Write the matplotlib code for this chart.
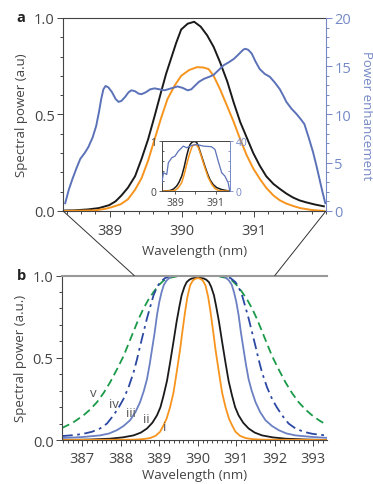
import matplotlib
matplotlib.use('Agg')
import matplotlib.pyplot as plt
from matplotlib.patches import ConnectionPatch
from matplotlib.ticker import MultipleLocator

plt.rcParams['font.family'] = ['Open Sans', 'DejaVu Sans']
plt.rcParams['font.size'] = 9.5

a_black_x = [388.35, 388.5, 388.7, 388.85, 388.99, 389.08, 389.16, 389.25, 389.35, 389.44, 389.53,
             389.62, 389.71, 389.78, 389.85, 389.92, 389.99, 390.08, 390.17, 390.26, 390.35, 390.44,
             390.53, 390.63, 390.72, 390.81, 390.9, 390.99, 391.08, 391.17, 391.27, 391.36, 391.45,
             391.54, 391.63, 391.72, 391.85, 391.97]
a_black_y = [0.002, 0.003, 0.008, 0.015, 0.03, 0.05, 0.08, 0.12, 0.18, 0.27, 0.37,
             0.49, 0.615, 0.71, 0.79, 0.87, 0.94, 0.97, 0.98, 0.955, 0.91, 0.85,
             0.77, 0.67, 0.56, 0.46, 0.38, 0.30, 0.235, 0.18, 0.14, 0.114, 0.09,
             0.07, 0.055, 0.045, 0.033, 0.024]
a_orange_x = [388.35, 388.8, 388.95, 389.03, 389.15, 389.25, 389.35, 389.44, 389.53, 389.62, 389.71,
              389.8, 389.9, 389.99, 390.1, 390.21, 390.3, 390.37, 390.44, 390.53, 390.62, 390.72,
              390.81, 390.9, 390.99, 391.08, 391.17, 391.27, 391.36, 391.45, 391.55, 391.64, 391.8,
              391.97]
a_orange_y = [0.0, 0.003, 0.012, 0.02, 0.035, 0.06, 0.11, 0.17, 0.26, 0.37, 0.48,
              0.58, 0.65, 0.70, 0.73, 0.745, 0.743, 0.735, 0.70, 0.63, 0.55, 0.46,
              0.37, 0.288, 0.22, 0.167, 0.12, 0.08, 0.055, 0.038, 0.025, 0.015, 0.005,
              0.0]
a_enh_x = [388.38, 388.43, 388.48, 388.54, 388.59, 388.65, 388.70, 388.76, 388.81, 388.85, 388.88,
           388.91, 388.94, 388.98, 389.03, 389.08, 389.12, 389.16, 389.21, 389.26, 389.30, 389.35,
           389.40, 389.44, 389.50, 389.56, 389.62, 389.69, 389.76, 389.85, 389.94, 390.01, 390.08,
           390.13, 390.17, 390.24, 390.31, 390.38, 390.44, 390.51, 390.58, 390.65, 390.72, 390.77,
           390.81, 390.85, 390.88, 390.92, 390.97, 391.02, 391.08, 391.15, 391.22, 391.29, 391.36,
           391.41, 391.45, 391.52, 391.59, 391.65, 391.70, 391.76, 391.82, 391.87, 391.91, 391.95,
           391.99]
a_enh_y = [0.8, 2.2, 3.3, 4.5, 5.4, 6.0, 6.6, 7.6, 8.8, 10.3, 11.6,
           12.6, 12.95, 12.8, 12.3, 11.6, 11.3, 11.4, 11.8, 12.3, 12.5, 12.4,
           12.15, 12.1, 12.3, 12.6, 12.7, 12.6, 12.5, 12.7, 12.9, 12.75, 12.5,
           12.6, 12.9, 13.4, 13.7, 13.9, 14.1, 14.6, 15.1, 15.4, 15.75, 16.1,
           16.4, 16.7, 16.8, 16.7, 16.3, 15.5, 14.7, 14.2, 13.9, 13.3, 12.6,
           11.9, 11.3, 10.6, 10.05, 9.5, 9.0, 7.6, 6.1, 4.6, 3.3, 2.0,
           0.8]

# inset
in_black_x = [388.35, 388.6, 388.75, 388.92, 389.08, 389.2, 389.33, 389.45, 389.57, 389.66, 389.74,
              389.82, 389.9, 390.0, 390.07, 390.15, 390.23, 390.35, 390.47, 390.6, 390.72, 390.88,
              391.05, 391.3, 391.54, 391.7]
in_black_y = [0.0, 0.005, 0.01, 0.04, 0.1, 0.18, 0.3, 0.48, 0.7, 0.84, 0.93,
              0.97, 0.99, 0.99, 0.97, 0.9, 0.8, 0.65, 0.5, 0.35, 0.23, 0.13,
              0.07, 0.03, 0.01, 0.0]
in_orange_x = [388.35, 388.85, 388.98, 389.15, 389.33, 389.45, 389.57, 389.7, 389.82, 389.9, 389.98,
               390.06, 390.15, 390.27, 390.39, 390.52, 390.64, 390.8, 390.97, 391.15, 391.38, 391.7]
in_orange_y = [0.0, 0.003, 0.01, 0.06, 0.17, 0.33, 0.53, 0.72, 0.87, 0.92, 0.93,
               0.92, 0.87, 0.73, 0.57, 0.41, 0.27, 0.14, 0.05, 0.01, 0.0, 0.0]
in_enh_x = [388.35, 388.43, 388.59, 388.67, 388.84, 389.0, 389.16, 389.33, 389.41, 389.57,
            389.82, 390.07, 390.39, 390.80, 390.97, 391.13, 391.30, 391.46, 391.62, 391.7]
in_enh_y = [6.7, 14.7, 13.3, 22.7, 26.7, 28, 32, 34.7, 36, 34.7,
            36.5, 37.3, 36, 35.5, 33.3, 24, 14.7, 12, 6.7, 0]

# ---- panel b: simulated spectra i-v
b_v_x = [386.47, 386.75, 387.03, 387.2, 387.38, 387.55, 387.72, 387.9, 388.07, 388.2, 388.33,
         388.46, 388.59, 388.72, 388.85, 388.98, 389.11, 389.28, 389.45, 389.7, 390.0,
         390.3, 390.55, 390.72, 390.89, 391.02, 391.15, 391.28, 391.41, 391.54, 391.67,
         391.8, 391.93, 392.1, 392.28, 392.45, 392.62, 392.8, 392.97, 393.15, 393.36]
b_v_y = [0.073, 0.105, 0.15, 0.185, 0.23, 0.285, 0.35, 0.43, 0.51, 0.585, 0.66,
         0.735, 0.80, 0.855, 0.90, 0.94, 0.97, 0.987, 0.995, 1.0, 1.0,
         1.0, 0.995, 0.987, 0.97, 0.94, 0.90, 0.855, 0.80, 0.735, 0.66,
         0.585, 0.51, 0.43, 0.35, 0.285, 0.23, 0.185, 0.15, 0.12, 0.09]
b_iv_x = [386.47, 386.8, 387.03, 387.25, 387.46, 387.64, 387.81, 387.95, 388.07, 388.2, 388.33,
          388.42, 388.5, 388.59, 388.68, 388.77, 388.85, 388.94, 389.02, 389.15, 389.28, 389.6,
          390.0, 390.4, 390.72, 390.85, 390.98, 391.06, 391.15, 391.23, 391.32, 391.41, 391.5,
          391.58, 391.67, 391.8, 391.93, 392.05, 392.19, 392.36, 392.54, 392.75, 392.97, 393.2,
          393.36]
b_iv_y = [0.024, 0.03, 0.038, 0.05, 0.07, 0.1, 0.15, 0.2, 0.25, 0.32, 0.41,
          0.49, 0.57, 0.655, 0.74, 0.815, 0.88, 0.93, 0.96, 0.985, 0.995, 1.0,
          1.0, 1.0, 0.995, 0.985, 0.96, 0.93, 0.88, 0.815, 0.74, 0.655, 0.57,
          0.49, 0.41, 0.32, 0.25, 0.2, 0.15, 0.1, 0.07, 0.05, 0.038, 0.031,
          0.028]
b_iii_x = [386.47, 387.0, 387.46, 387.7, 387.9, 388.07, 388.24, 388.38, 388.5, 388.6, 388.68,
           388.75, 388.81, 388.88, 388.94, 389.0, 389.06, 389.12, 389.19, 389.28, 389.37, 390.0,
           390.63, 390.72, 390.81, 390.88, 390.94, 391.0, 391.06, 391.12, 391.19, 391.25, 391.32,
           391.4, 391.5, 391.62, 391.76, 391.93, 392.1, 392.3, 392.54, 393.0, 393.36]
b_iii_y = [0.012, 0.018, 0.028, 0.04, 0.06, 0.085, 0.12, 0.17, 0.23, 0.3, 0.37,
           0.46, 0.55, 0.655, 0.76, 0.84, 0.90, 0.945, 0.97, 0.99, 1.0, 1.0,
           1.0, 0.99, 0.97, 0.945, 0.90, 0.84, 0.76, 0.655, 0.55, 0.46, 0.37,
           0.3, 0.23, 0.17, 0.12, 0.085, 0.06, 0.04, 0.028, 0.018, 0.013]
b_ii_x = [386.47, 387.2, 387.72, 388.05, 388.33, 388.52, 388.68, 388.82, 388.94, 389.03, 389.11,
          389.2, 389.28, 389.37, 389.45, 389.52, 389.58, 389.65, 389.71, 389.78, 389.84, 389.92,
          390.0, 390.08, 390.16, 390.22, 390.29, 390.35, 390.42, 390.48, 390.55, 390.63, 390.72,
          390.8, 390.89, 390.97, 391.06, 391.18, 391.32, 391.48, 391.67, 391.95, 392.28, 392.8,
          393.36]
b_ii_y = [0.0, 0.003, 0.008, 0.016, 0.028, 0.045, 0.07, 0.105, 0.15, 0.2, 0.27,
          0.36, 0.47, 0.6, 0.72, 0.81, 0.88, 0.93, 0.96, 0.975, 0.982, 0.985,
          0.985, 0.985, 0.982, 0.975, 0.96, 0.93, 0.88, 0.81, 0.72, 0.6, 0.47,
          0.36, 0.27, 0.2, 0.15, 0.105, 0.07, 0.045, 0.028, 0.016, 0.008, 0.003,
          0.0]
b_i_x = [386.47, 388.33, 388.6, 388.76, 388.9, 389.02, 389.1, 389.19, 389.28, 389.37, 389.45,
         389.54, 389.6, 389.67, 389.73, 389.8, 389.87, 389.93, 390.0, 390.07, 390.13,
         390.2, 390.27, 390.33, 390.4, 390.46, 390.55, 390.63, 390.72, 390.81, 390.9,
         390.98, 391.1, 391.24, 391.4, 391.67, 393.36]
b_i_y = [0.0, 0.002, 0.006, 0.012, 0.025, 0.05, 0.085, 0.13, 0.2, 0.29, 0.41,
         0.55, 0.66, 0.78, 0.87, 0.94, 0.97, 0.98, 0.985, 0.98, 0.97,
         0.94, 0.87, 0.78, 0.66, 0.55, 0.41, 0.29, 0.2, 0.13, 0.085,
         0.05, 0.025, 0.012, 0.006, 0.002, 0.0]
b_labels = ['v', 'iv', 'iii', 'ii', 'i']
b_label_x = [387.29, 387.81, 388.27, 388.65, 389.15]
b_label_y = [0.29, 0.22, 0.17, 0.13, 0.08]

c_black = '#1a1a1a'
c_orange = '#f7941d'
c_blue = '#5b72b8'
c_lblue = '#6a80c2'
c_dblue = '#2b48a3'
c_green = '#1a9a48'
c_axblue = '#7589c6'
c_grey = '#444444'

fig = plt.figure(figsize=(3.73, 4.85), dpi=100)

# ---------------- panel a
ax_a = fig.add_axes([0.169, 0.563, 0.705, 0.398])
ax_a.plot(a_black_x, a_black_y, color=c_black, lw=1.4)
ax_a.plot(a_orange_x, a_orange_y, color=c_orange, lw=1.4)
ax_a.set_xlim(388.35, 392.0)
ax_a.set_ylim(0, 1.0)
ax_a.set_xticks([389, 390, 391])
ax_a.xaxis.set_minor_locator(MultipleLocator(0.2))
ax_a.set_yticks([0, 0.5, 1.0])
ax_a.set_yticklabels(['0.0', '0.5', '1.0'])
ax_a.yaxis.set_minor_locator(MultipleLocator(0.1))
ax_a.tick_params(which='major', direction='out', length=4, width=0.7, colors=c_grey, labelsize=10.5)
ax_a.tick_params(which='minor', direction='out', length=2.5, width=0.7, colors=c_grey)
ax_a.tick_params(axis='x', pad=5)
ax_a.tick_params(axis='y', pad=2)
ax_a.set_xlabel('Wavelength (nm)', color=c_grey, labelpad=4)
ax_a.set_ylabel('Spectral power (a.u)', color=c_grey, labelpad=4)
for s in ['left', 'bottom', 'top']:
    ax_a.spines[s].set_color(c_grey)
    ax_a.spines[s].set_linewidth(0.8)
ax_a.spines['right'].set_visible(False)

ax_a2 = ax_a.twinx()
ax_a2.plot(a_enh_x, a_enh_y, color=c_blue, lw=1.4)
ax_a2.set_ylim(0, 20)
ax_a2.set_yticks([0, 5, 10, 15, 20])
ax_a2.yaxis.set_minor_locator(MultipleLocator(1))
ax_a2.tick_params(which='major', direction='out', length=4, width=0.7, colors=c_axblue, labelsize=10.5, pad=2)
ax_a2.tick_params(which='minor', direction='out', length=2.5, width=0.7, colors=c_axblue)
ax_a2.set_ylabel('Power enhancement', color=c_axblue, rotation=270, labelpad=16)
for s in ['left', 'bottom', 'top']:
    ax_a2.spines[s].set_visible(False)
ax_a2.spines['right'].set_color(c_axblue)
ax_a2.spines['right'].set_linewidth(0.8)

fig.text(0.045, 0.962, 'a', fontweight='bold', fontsize=10.5, va='center', color='#222222')

# inset
ax_in = fig.add_axes([0.434, 0.604, 0.182, 0.103])
ax_in.plot(in_black_x, in_black_y, color=c_black, lw=1.1)
ax_in.plot(in_orange_x, in_orange_y, color=c_orange, lw=1.1)
ax_in.set_xlim(388.35, 391.7)
ax_in.set_ylim(0, 1)
ax_in.set_xticks([389, 390, 391])
ax_in.set_xticklabels(['389', '', '391'])
ax_in.set_yticks([0, 1])
ax_in.yaxis.set_minor_locator(MultipleLocator(0.2))
ax_in.tick_params(which='major', direction='out', length=2.5, width=0.6, colors=c_grey, labelsize=7.5, pad=1.5)
ax_in.tick_params(which='minor', direction='in', length=1.5, width=0.6, colors=c_grey)
for s in ['left', 'bottom', 'top']:
    ax_in.spines[s].set_color(c_grey)
    ax_in.spines[s].set_linewidth(0.7)
ax_in.spines['right'].set_visible(False)
ax_in2 = ax_in.twinx()
ax_in2.plot(in_enh_x, in_enh_y, color=c_blue, lw=0.9)
ax_in2.set_ylim(0, 40)
ax_in2.set_yticks([0, 40])
ax_in2.yaxis.set_minor_locator(MultipleLocator(8))
ax_in2.tick_params(which='major', direction='out', length=2.5, width=0.6, colors=c_axblue, labelsize=7.5, pad=1.5)
ax_in2.tick_params(which='minor', direction='in', length=1.5, width=0.6, colors=c_axblue)
for s in ['left', 'bottom', 'top']:
    ax_in2.spines[s].set_visible(False)
ax_in2.spines['right'].set_color(c_axblue)
ax_in2.spines['right'].set_linewidth(0.7)

# ---------------- panel b
ax_b = fig.add_axes([0.166, 0.0907, 0.711, 0.339])
ax_b.plot(b_v_x, b_v_y, color=c_green, lw=1.3, linestyle=(0, (4.5, 2.5)))
ax_b.plot(b_iv_x, b_iv_y, color=c_dblue, lw=1.3, linestyle=(0, (6, 2.5, 1.5, 2.5)))
ax_b.plot(b_iii_x, b_iii_y, color=c_lblue, lw=1.3)
ax_b.plot(b_ii_x, b_ii_y, color=c_black, lw=1.3)
ax_b.plot(b_i_x, b_i_y, color=c_orange, lw=1.3)
for lbl, lx, ly in zip(b_labels, b_label_x, b_label_y):
    ax_b.text(lx, ly, lbl, color='#555555', fontsize=9.5, ha='center', va='center')
ax_b.set_xlim(386.47, 393.36)
ax_b.set_ylim(0, 1.0)
ax_b.set_xticks([387, 388, 389, 390, 391, 392, 393])
ax_b.xaxis.set_minor_locator(MultipleLocator(0.125))
ax_b.set_yticks([0, 0.5, 1.0])
ax_b.set_yticklabels(['0.0', '0.5', '1.0'])
ax_b.yaxis.set_minor_locator(MultipleLocator(0.1))
ax_b.tick_params(which='major', direction='out', length=4, width=0.7, colors=c_grey, labelsize=10.5)
ax_b.tick_params(which='minor', direction='out', length=2.5, width=0.7, colors=c_grey)
ax_b.tick_params(axis='x', pad=4)
ax_b.tick_params(axis='y', pad=2)
ax_b.set_xlabel('Wavelength (nm)', color=c_grey, labelpad=1.5)
ax_b.set_ylabel('Spectral power (a.u.)', color=c_grey, labelpad=4)
ax_b.spines['right'].set_visible(False)
ax_b.spines['top'].set_color('#999999')
ax_b.spines['top'].set_linewidth(1.5)
for s in ['left', 'bottom']:
    ax_b.spines[s].set_color(c_grey)
    ax_b.spines[s].set_linewidth(0.8)
fig.text(0.045, 0.430, 'b', fontweight='bold', fontsize=10.5, va='center', color='#222222')

# zoom lines from panel a to panel b
for xv in [388.35, 392.0]:
    con = ConnectionPatch(xyA=(xv, 0), coordsA=ax_a.transData, xyB=(xv, 1.0), coordsB=ax_b.transData,
                          color='#333333', lw=0.7)
    fig.add_artist(con)

fig.savefig('out.png', dpi=100)
